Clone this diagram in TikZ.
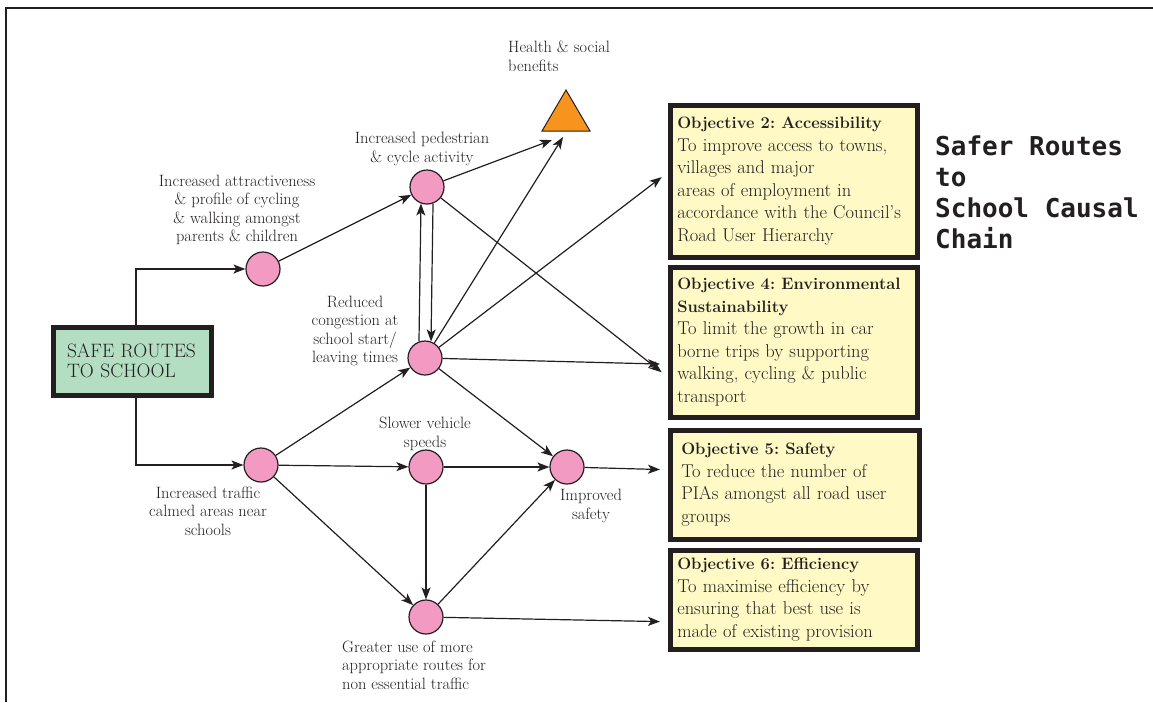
\documentclass[tikz,border=0pt]{standalone}
\usepackage{fontspec}
\usetikzlibrary{arrows.meta,positioning,calc}
\newfontfamily\titlefont{DejaVu Sans Mono}
\frenchspacing
\definecolor{ink}{HTML}{231F20}
\definecolor{causefill}{HTML}{F39AC2}
\definecolor{startfill}{HTML}{B3DEC1}
\definecolor{objfill}{HTML}{FFFAC5}
\definecolor{benefitfill}{HTML}{F7941D}
\newcommand{\objhead}[1]{{\bfseries\fontsize{16.5}{22.5}\selectfont #1}}
\tikzset{
  link/.style={draw=ink, line width=1.2pt, -{Stealth[length=12pt,width=9pt,inset=3pt]}},
  cause/.style={circle, draw=ink, fill=causefill, line width=1.2pt, minimum size=34pt, inner sep=0pt},
  startbox/.style={rectangle, draw=ink, fill=startfill, line width=5pt, minimum width=158pt, minimum height=68pt,
    text width=130pt, inner xsep=14pt, align=left, font=\fontsize{19.4}{20}\selectfont, text=ink},
  objbox/.style={rectangle, draw=ink, fill=objfill, line width=4.5pt, anchor=north west,
    text width=233pt, inner xsep=7pt, align=left, font=\fontsize{18.5}{22.5}\selectfont, text=ink},
  lbl/.style={align=center, font=\fontsize{16.4}{18.6}\selectfont, text=ink, inner sep=0pt},
  lbll/.style={lbl, align=left},
}
\begin{document}
\begin{tikzpicture}[x=1pt,y=-1pt]
\useasboundingbox (0,0) rectangle (1153,702);
% page frame
\draw[ink, line width=1.2pt] (6,702) -- (6,8) -- (1153,8);

% start box
\node[startbox] (sr) at (132,361) {SAFE ROUTES\\TO SCHOOL};

% causal nodes
\node[cause] (attr) at (263,269) {};
\node[cause] (calm) at (261,465) {};
\node[cause] (ped)  at (427,187) {};
\node[cause] (cong) at (425,358) {};
\node[cause] (slow) at (426,467) {};
\node[cause] (safe) at (567,467) {};
\node[cause] (route) at (426,617) {};

% health & social benefits marker
\draw[ink, fill=benefitfill, line width=1pt] (566,90) -- (590,131) -- (542,131) -- cycle;
\coordinate (benefitA) at (552,140);
\coordinate (benefitB) at (563,137);

% labels
\node[lbl] (l-attr) at (237,210) {Increased attractiveness\\\& profile of cycling\\\& walking amongst\\parents \& children};
\node[lbl] (l-ped) at (422,149) {Increased pedestrian\\\& cycle activity};
\node[lbl] (l-cong) at (355,331) {Reduced\\congestion at\\school start/\\leaving times};
\node[lbl] (l-slow) at (425,434) {Slower vehicle\\speeds};
\node[lbl] (l-safe) at (591,506) {Improved\\safety};
\node[lbll, anchor=west] (l-route) at (342,665) {Greater use of more\\appropriate routes for\\non essential traffic};
\node[lbl] (l-calm) at (208,511) {Increased traffic\\calmed areas near\\schools};
\node[lbll, anchor=west] (l-health) at (508,56) {Health \& social\\benefits};

% objectives
\node[objbox, minimum height=152pt] (obj2) at (668,103)
  {\objhead{Objective 2: Accessibility}\\To improve access to towns,\\villages and major\\areas of employment in\\accordance with the Council's\\Road User Hierarchy};
\node[objbox, minimum height=150pt] (obj4) at (668,265)
  {\objhead{Objective 4: Environmental}\\\objhead{Sustainability}\\To limit the growth in car\\borne trips by supporting\\walking, cycling \& public\\transport};
\node[objbox, minimum height=109pt, text width=227pt, inner xsep=11pt] (obj5) at (668,428)
  {\objhead{Objective 5: Safety}\\To reduce the number of\\PIAs amongst all road user\\groups};
\node[objbox, minimum height=99pt] (obj6) at (668,548)
  {\objhead{Objective 6: Efficiency}\\To maximise efficiency by\\ensuring that best use is\\made of existing provision};

% title
\node[anchor=north west, align=left, inner sep=0pt, text=ink,
      font=\titlefont\bfseries\fontsize{26}{31}\selectfont] (title) at (935,136)
  {Safer Routes\\to\\School Causal\\Chain};

% connectors
\draw[link] ([xshift=4pt]sr.north) |- (attr);
\draw[link] ([xshift=4pt]sr.south) |- (calm);
\draw[link] (attr) -- (ped);
\draw[link] (ped) -- (benefitA);
\draw[link] (cong) -- (benefitB);
\draw[link, shorten >=8pt] (ped) -- ([yshift=-35pt]obj4.west);
\draw[link, shorten >=8pt] (cong) -- ([yshift=9pt]obj2.west);
\draw[link, shorten >=8pt] (cong) -- ([yshift=-22pt]obj4.west);
\draw[link] (cong.110) -- (ped.250);
\draw[link] (ped.290) -- (cong.70);
\draw[link] (calm) -- (cong);
\draw[link] (calm) -- (slow);
\draw[link] (calm) -- (route);
\draw[link] (cong) -- (safe);
\draw[link] (slow) -- (safe);
\draw[link] (slow) -- (route);
\draw[link] (route) -- (safe);
\draw[link, shorten >=8pt] (safe) -- ([yshift=15pt]obj5.west);
\draw[link, shorten >=8pt] (route) -- ([yshift=-22pt]obj6.west);
\end{tikzpicture}
\end{document}
